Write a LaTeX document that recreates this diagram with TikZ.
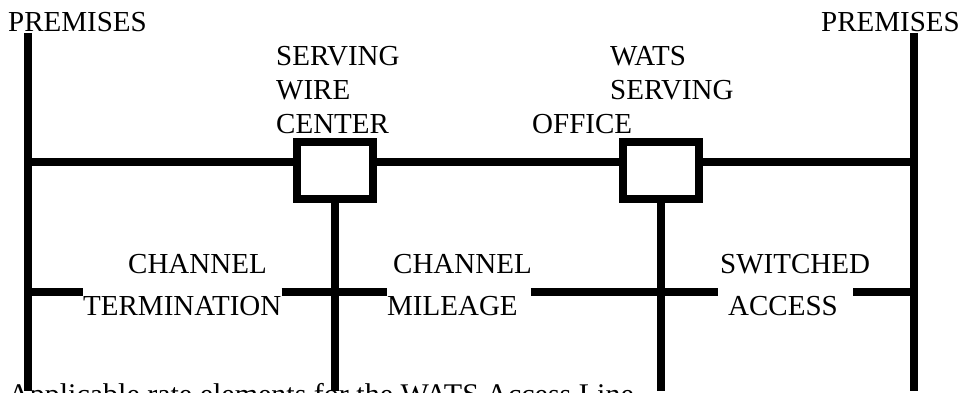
\documentclass[tikz,border=0pt]{standalone}
\usepackage{fontspec}
\setmainfont{Liberation Serif}
\usepackage{tikz}

\begin{document}
\begin{tikzpicture}[x=1pt, y=-1pt, every node/.style={font=\fontsize{29}{34}\selectfont, inner sep=0pt, anchor=base west}, wire/.style={line width=8pt}, office/.style={draw, line width=8pt, minimum width=76pt, minimum height=57pt, inner sep=0pt, anchor=center}]
	\useasboundingbox (0,0) rectangle (966,393);
	\clip (0,0) rectangle (966,393);
	% offices
	\node[office] (swc) at (335,170.5) {};
	\node[office] (wso) at (661,170.5) {};
	% premises
	\coordinate (lt) at (27.5,33); \coordinate (lb) at (27.5,391);
	\coordinate (rt) at (914,33); \coordinate (rb) at (914,391);
	\coordinate (lm) at (27.5,161.5); \coordinate (rm) at (914,161.5);
	\coordinate (lp) at (27.5,292); \coordinate (rp) at (914,292);
	\draw[wire] (lt) -- (lb);
	\draw[wire] (rt) -- (rb);
	\draw[wire] (lm) -- (swc.west |- lm);
	\draw[wire] (swc.east |- lm) -- (wso.west |- lm);
	\draw[wire] (wso.east |- lm) -- (rm);
	\draw[wire] (swc.south) -- (swc.south |- lb);
	\draw[wire] (wso.south) -- (wso.south |- lb);
	% labels
	\node (pl) at (8,32) {PREMISES};
	\node (pr) at (821,32) {PREMISES};
	\foreach \t [count=\i] in {SERVING,WIRE,CENTER} {\node (swct\i) at (276,{32+34*\i}) {\t};}
	\foreach \t [count=\i] in {WATS,SERVING} {\node (wsot\i) at (610,{32+34*\i}) {\t};}
	\node (wsot3) at (532,133) {OFFICE};
	\node (ct1) at (128,273) {CHANNEL};
	\node (term) at (83,315) {TERMINATION};
	\node (ct2) at (393,273) {CHANNEL};
	\node (mil) at (387,315) {MILEAGE};
	\node (sw) at (720,273) {SWITCHED};
	\node (acc) at (728,315) {ACCESS};
	% rate element line
	\draw[wire] (lp) -- (term.west |- lp);
	\draw[wire] (term.east |- lp) -- (mil.west |- lp);
	\draw[wire, shorten <=13pt, shorten >=10pt] (mil.east |- lp) -- (acc.west |- lp);
	\draw[wire, shorten <=15pt] (acc.east |- lp) -- (rp);
	\node[font=\fontsize{30}{34}\selectfont] (cap) at (8,404) {Applicable rate elements for the WATS Access Line};
\end{tikzpicture}
\end{document}
